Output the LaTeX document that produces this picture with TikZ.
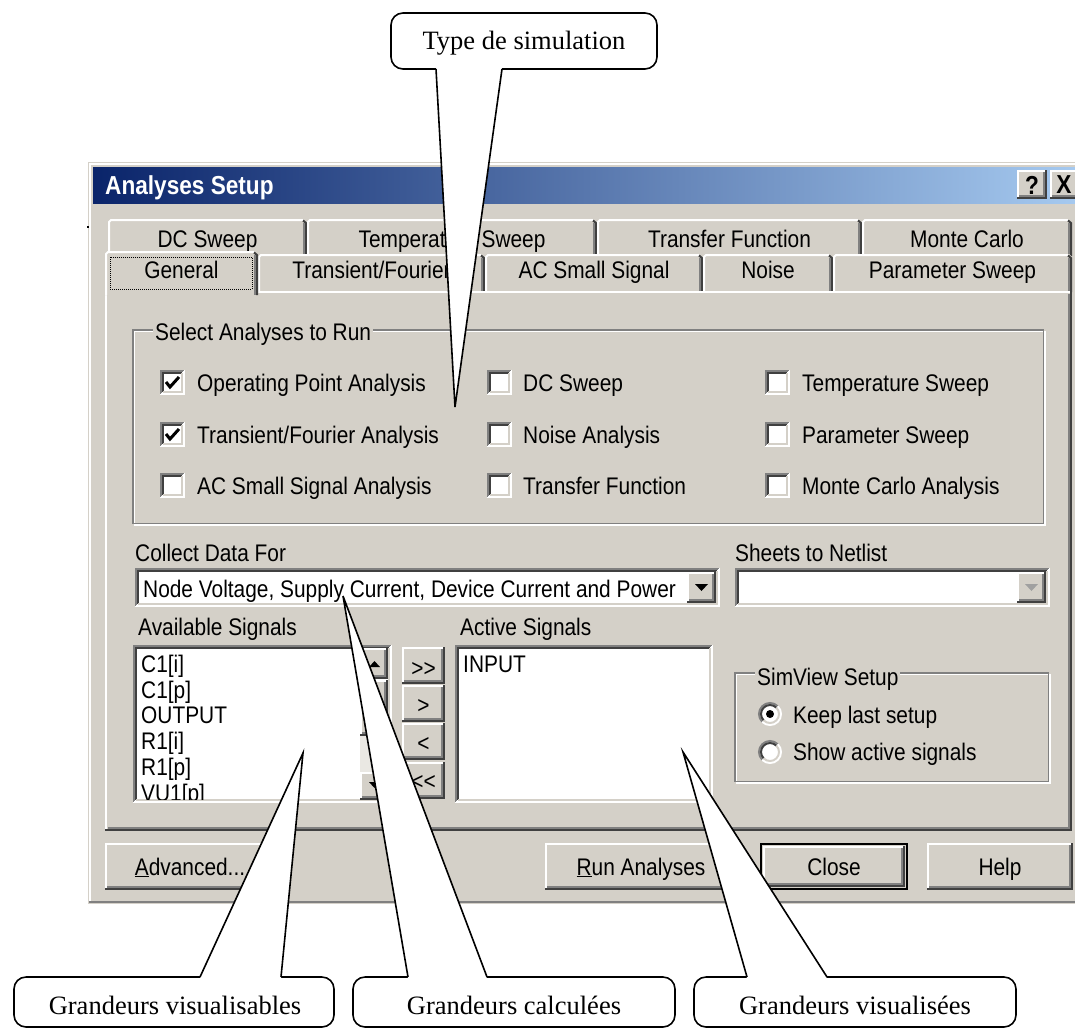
\documentclass[tikz,border=0pt]{standalone}
\usepackage{fontspec}
\setmainfont{Liberation Serif}
\newfontfamily\uifont[FakeStretch=0.87]{Liberation Sans}
\usetikzlibrary{calc}
\definecolor{winbg}{HTML}{D4D0C8}
\definecolor{wdark}{HTML}{808080}
\definecolor{wblack}{HTML}{404040}
\definecolor{wtrack}{HTML}{EAE8E3}
\definecolor{titleL}{HTML}{0A246A}
\definecolor{titleR}{HTML}{A6CAF0}
\definecolor{wgray}{HTML}{A0A0A0}

% sunken box: [fill] x1 y1 x2 y2
\newcommand\uiSunken[5][white]{%
  \fill[#1] (#2,#3) rectangle (#4,#5);
  \draw[wdark,line width=2pt] (#2+1,#5-1) -- (#2+1,#3+1) -- (#4-1,#3+1);
  \draw[wblack,line width=2pt] (#2+3,#5-3) -- (#2+3,#3+3) -- (#4-3,#3+3);
  \draw[white,line width=2pt] (#2+1,#5-1) -- (#4-1,#5-1) -- (#4-1,#3+1);
  \draw[winbg,line width=2pt] (#2+3,#5-3) -- (#4-3,#5-3) -- (#4-3,#3+3);
}
% raised box: x1 y1 x2 y2
\newcommand\uiRaised[4]{%
  \fill[winbg] (#1,#2) rectangle (#3,#4);
  \draw[white,line width=2pt] (#1+1,#4-2) -- (#1+1,#2+1) -- (#3-2,#2+1);
  \draw[wblack,line width=2pt] (#1,#4-1) -- (#3-1,#4-1) -- (#3-1,#2);
  \draw[wdark,line width=2pt] (#1+2,#4-3) -- (#3-3,#4-3) -- (#3-3,#2+2);
}
% etched group frame
\newcommand\uiEtched[4]{%
  \draw[white,line width=1.5pt] (#1+1.5,#2+1.5) rectangle (#3,#4);
  \draw[wdark,line width=1.5pt] (#1,#2) rectangle (#3-1.5,#4-1.5);
}
% tab: x1 y1 x2 y2 baseline name text
\newcommand\uiTab[7]{%
  \fill[winbg] (#1,#4) -- (#1,#2+3) -- (#1+3,#2) -- (#3-3,#2) -- (#3,#2+3) -- (#3,#4) -- cycle;
  \draw[white,line width=2pt] (#1+1,#4) -- (#1+1,#2+3) -- (#1+3,#2+1) -- (#3-4,#2+1);
  \draw[wblack,line width=2pt] (#3-4,#2+1.5) -- (#3-1,#2+4) -- (#3-1,#4);
  \draw[wdark,line width=2pt] (#3-3,#2+4) -- (#3-3,#4);
  \node[uic] (#6) at ({(#1+#3)/2},#5) {#7};
}
\newcommand\uiCheckbox[2]{\uiSunken{#1}{#2}{#1+25}{#2+25}}
\newcommand\uiTick[2]{\draw[line width=3pt] (#1+6,#2+12) -- (#1+10,#2+17) -- (#1+19,#2+7);}
\newcommand\uiRadio[2]{%
  \fill[white] (#1,#2) circle (11);
  \draw[wdark,line width=2pt] (#1,#2) ++(135:11) arc[start angle=135,end angle=315,radius=11];
  \draw[wblack,line width=2pt] (#1,#2) ++(135:9) arc[start angle=135,end angle=315,radius=9];
  \draw[white,line width=2pt] (#1,#2) ++(315:11) arc[start angle=315,end angle=495,radius=11];
  \draw[winbg,line width=2pt] (#1,#2) ++(315:9) arc[start angle=315,end angle=495,radius=9];
}

\begin{document}
\begin{tikzpicture}[x=1pt,y=-1pt,
  ui/.style={font=\uifont\fontsize{24}{28}\selectfont, inner sep=0pt},
  uiw/.style={ui, anchor=base west},
  uic/.style={ui, anchor=base},
  ctext/.style={font=\fontsize{26.5}{30}\selectfont, inner sep=0pt, anchor=base},
  cbox/.style={draw=black, line width=1.6pt, fill=white, rounded corners=12pt, inner sep=0pt},
  cline/.style={line width=1.6pt, line join=miter},
  grouplabel/.style={uiw, fill=winbg, inner xsep=2pt},
  titletext/.style={font=\uifont\bfseries\fontsize{26}{30}\selectfont, inner sep=0pt},
]
\useasboundingbox (0,0) rectangle (1075,1028);
\clip (0,0) rectangle (1075,1028);

% ---------- window ----------
\fill[winbg] (88,162) rectangle (1080,904);
\draw[white, line width=2pt] (90,903) -- (90,164) -- (1080,164);
\draw[wdark, line width=2pt] (89,902) -- (1080,902);
\shade[left color=titleL, right color=titleR] (93,167) rectangle (1080,203);
\node[titletext, text=white, anchor=base west] (title) at (105,194) {Analyses Setup};
\uiRaised{1017}{170}{1047}{199}
\node[titletext] (qbtn) at (1032,185) {?};
\uiRaised{1050}{170}{1082}{199}
\node[titletext] (xbtn) at (1064,185) {X};
\fill[black] (87,226) rectangle (89,228);

% ---------- tabs ----------
\uiTab{108}{219}{307}{256}{247}{tabdc}{DC Sweep}
\uiTab{307}{219}{597}{256}{247}{tabtemp}{Temperature Sweep}
\uiTab{597}{219}{862}{256}{247}{tabtf}{Transfer Function}
\uiTab{862}{219}{1072}{256}{247}{tabmc}{Monte Carlo}
\uiTab{258}{254}{485}{292}{278}{tabtr}{Transient/Fourier}
\uiTab{485}{254}{703}{292}{278}{tabac}{AC Small Signal}
\uiTab{703}{254}{833}{292}{278}{tabno}{Noise}
\uiTab{833}{254}{1072}{292}{278}{tabps}{Parameter Sweep}
% panel
\fill[winbg] (105,291) rectangle (1072,831);
\draw[white,line width=2pt] (106,830) -- (106,292) -- (1070,292);
\draw[wblack,line width=2pt] (105,830) -- (1071,830) -- (1071,291);
\draw[wdark,line width=2pt] (108,828) -- (1069,828) -- (1069,294);
\uiTab{105}{251}{258}{295}{278}{tabgen}{General}
\draw[dash pattern=on 1pt off 1pt, line width=1pt] (110,257) rectangle (252,289);

% ---------- Select Analyses ----------
\uiEtched{133}{330}{1045}{525}
\node[grouplabel] (gsel) at (153,340) {Select Analyses to Run};
\uiCheckbox{160}{370}\uiTick{160}{370}
\uiCheckbox{160}{422}\uiTick{160}{422}
\uiCheckbox{160}{473}
\uiCheckbox{487}{370}
\uiCheckbox{487}{422}
\uiCheckbox{487}{473}
\uiCheckbox{765}{370}
\uiCheckbox{765}{422}
\uiCheckbox{765}{473}
\node[uiw] (op) at (197,391) {Operating Point Analysis};
\node[uiw] (tf) at (197,443) {Transient/Fourier Analysis};
\node[uiw] (ac) at (197,494) {AC Small Signal Analysis};
\node[uiw] (dc) at (523,391) {DC Sweep};
\node[uiw] (no) at (523,443) {Noise Analysis};
\node[uiw] (tr) at (523,494) {Transfer Function};
\node[uiw] (te) at (802,391) {Temperature Sweep};
\node[uiw] (pa) at (802,443) {Parameter Sweep};
\node[uiw] (mc) at (802,494) {Monte Carlo Analysis};

% ---------- Collect data ----------
\node[uiw] (lcollect) at (135,561) {Collect Data For};
\uiSunken{135}{568}{720}{607}
\node[uiw] (combo1) at (143,597) {Node Voltage, Supply Current, Device Current and Power};
\uiRaised{687}{572}{716}{603}
\fill (695,584) -- (708,584) -- (701.5,591) -- cycle;
\node[uiw] (lsheets) at (735,561) {Sheets to Netlist};
\uiSunken{735}{568}{1050}{607}
\uiRaised{1017}{572}{1046}{603}
\fill[wgray] (1025,584) -- (1038,584) -- (1031.5,591) -- cycle;

% ---------- lists ----------
\node[uiw] (lavail) at (138,635) {Available Signals};
\node[uiw] (lactive) at (460,635) {Active Signals};
\uiSunken{133}{645}{392}{803}
\begin{scope}
\clip (137,649) rectangle (359,799);
\node[uiw] (s1) at (141,672) {C1[i]};
\node[uiw] (s2) at (141,698) {C1[p]};
\node[uiw] (s3) at (141,723) {OUTPUT};
\node[uiw] (s4) at (141,749) {R1[i]};
\node[uiw] (s5) at (141,775) {R1[p]};
\node[uiw] (s6) at (141,801) {VU1[p]};
\end{scope}
\uiRaised{360}{648}{388}{679}
\fill (369,667) -- (380,667) -- (374.5,661) -- cycle;
\uiRaised{360}{680}{388}{736}
\fill[wtrack] (360,736) rectangle (388,772);
\uiRaised{360}{772}{388}{800}
\fill (369,782) -- (380,782) -- (374.5,788) -- cycle;

\uiRaised{402}{647}{445}{684}
\node[uic] (b1) at (423.5,676) {>{}>};
\uiRaised{402}{685}{445}{722}
\node[uic] (b2) at (423.5,713) {>};
\uiRaised{402}{723}{445}{760}
\node[uic] (b3) at (423.5,751) {<};
\uiRaised{402}{762}{445}{799}
\node[uic] (b4) at (423.5,789) {<{}<};

\uiSunken{455}{645}{713}{803}
\node[uiw] (inputsig) at (463,672) {INPUT};

% ---------- SimView ----------
\uiEtched{735}{673}{1050}{783}
\node[grouplabel] (lsim) at (755,685) {SimView Setup};
\uiRadio{770}{714}
\fill[black] (770,714) circle (4);
\uiRadio{770}{752}
\node[uiw] (keep) at (793,723) {Keep last setup};
\node[uiw] (show) at (793,760) {Show active signals};

% ---------- bottom buttons ----------
\uiRaised{105}{843}{275}{890}
\node[uic] (badv) at (190,875) {\underline{A}dvanced...};
\uiRaised{545}{843}{737}{890}
\node[uic] (brun) at (641,875) {\underline{R}un Analyses};
\draw[black,line width=2pt] (761,844) rectangle (907,889);
\uiRaised{763}{846}{905}{887}
\node[uic] (bclose) at (834,875) {Close};
\uiRaised{927}{843}{1073}{890}
\node[uic] (bhelp) at (1000,875) {Help};

% ---------- callouts ----------
\node[cbox, minimum width=266, minimum height=56] (ctype) at (524,41) {};
\node[ctext] (ttype) at (524,49) {Type de simulation};
\coordinate (ctypeL) at (436,69);
\coordinate (ctypeR) at (502,69);
\coordinate (ctypeTip) at (455,407);
\fill[white] ($(ctypeL)+(0,-1.2)$) -- (ctypeTip) -- ($(ctypeR)+(0,-1.2)$) -- cycle;
\draw[cline] (ctypeL) -- (ctypeTip) -- (ctypeR);

\node[cbox, minimum width=320, minimum height=50] (cvis) at (174,1002) {};
\node[ctext] (tvis) at (175,1014) {Grandeurs visualisables};
\coordinate (cvisL) at (200,977);
\coordinate (cvisR) at (281,977);
\coordinate (cvisTip) at (303,753);
\fill[white] ($(cvisL)+(0,1.2)$) -- (cvisTip) -- ($(cvisR)+(0,1.2)$) -- cycle;
\draw[cline] (cvisL) -- (cvisTip) -- (cvisR);

\node[cbox, minimum width=322, minimum height=50] (ccal) at (514,1002) {};
\node[ctext] (tcal) at (514,1014) {Grandeurs calculées};
\coordinate (ccalL) at (408,977);
\coordinate (ccalR) at (487,977);
\coordinate (ccalTip) at (343,596);
\fill[white] ($(ccalL)+(0,1.2)$) -- (ccalTip) -- ($(ccalR)+(0,1.2)$) -- cycle;
\draw[cline] (ccalL) -- (ccalTip) -- (ccalR);

\node[cbox, minimum width=322, minimum height=50] (cvse) at (855,1002) {};
\node[ctext] (tvse) at (855,1014) {Grandeurs visualisées};
\coordinate (cvseL) at (747,977);
\coordinate (cvseR) at (827,977);
\coordinate (cvseTip) at (683,752);
\fill[white] ($(cvseL)+(0,1.2)$) -- (cvseTip) -- ($(cvseR)+(0,1.2)$) -- cycle;
\draw[cline] (cvseL) -- (cvseTip) -- (cvseR);
\end{tikzpicture}
\end{document}
